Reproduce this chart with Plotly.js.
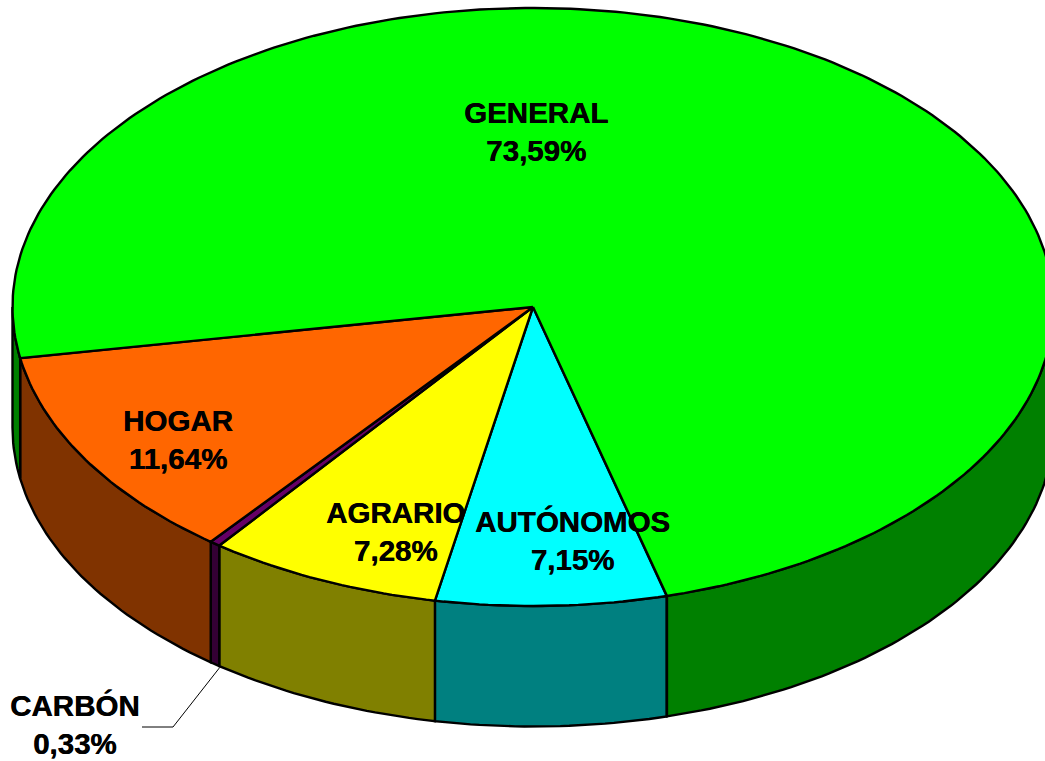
<!DOCTYPE html>
<html><head><meta charset="utf-8">
<script src="https://cdn.plot.ly/plotly-3.0.1.min.js"></script>
<style>html,body{margin:0;padding:0;background:#fff;overflow:hidden}#c{width:1045px;height:761px}</style>
</head><body><div id="c"></div>
<script>
var categories = ["AUTÓNOMOS", "AGRARIO", "CARBÓN", "HOGAR", "GENERAL"];
var shares = [7.15, 7.28, 0.33, 11.64, 73.59];
var shareLabels = ["7,15%", "7,28%", "0,33%", "11,64%", "73,59%"];
var topColors = ["#00FFFF", "#FFFF00", "#660066", "#FF6600", "#00FF00"];
var sideColors = ["#008080", "#808000", "#330033", "#803300", "#008000"];
var labelX = [572, 395, 74, 178, 536];
var labelY = [540, 531, 724, 439, 131];

var cx = 533, cy = 307, rx = 520.5, ry = 299, depth = 120.5, startDeg = 75.12;
function px(d){ return cx + rx*Math.cos(d*Math.PI/180); }
function py(d){ return cy + ry*Math.sin(d*Math.PI/180); }
function arc(a, b){ var o=[], n=Math.max(2,Math.ceil(Math.abs(b-a))); for(var i=0;i<=n;i++) o.push(a+(b-a)*i/n); return o; }

var traces = [], a = startDeg, spans = [];
shares.forEach(function(s){ spans.push([a, a + s*3.6]); a += s*3.6; });
var line = {color:"#000", width:2.4};

// walls: only the part of each slice facing the viewer (0..180 and 360..540 deg)
function wall(lo, hi, color){
  var an = arc(lo, hi), back = an.slice().reverse();
  traces.push({type:"scatter", mode:"lines", fill:"toself", fillcolor:color, line:line, hoverinfo:"skip",
    x: an.map(px).concat(back.map(px)).concat([px(lo)]),
    y: an.map(py).concat(back.map(function(d){return py(d)+depth;})).concat([py(lo)])});
}
spans.forEach(function(sp, i){
  [0, 360].forEach(function(off){
    var lo = Math.max(sp[0], off), hi = Math.min(sp[1], off+180);
    if (hi > lo) wall(lo, hi, sideColors[i]);
  });
});
// top faces
spans.forEach(function(sp, i){
  var an = arc(sp[0], sp[1]);
  traces.push({type:"scatter", mode:"lines", fill:"toself", fillcolor:topColors[i], line:line, hoverinfo:"skip",
    x:[cx].concat(an.map(px)).concat([cx]), y:[cy].concat(an.map(py)).concat([cy])});
});
// leader line of the small slice
var lead = spans[2][0];
traces.push({type:"scatter", mode:"lines", line:{color:"#000",width:1}, hoverinfo:"skip",
  x:[px(lead), 173, 142], y:[py(lead)+depth+2, 727, 727]});

var annotations = categories.map(function(c,i){
  return {x:labelX[i], y:labelY[i], xref:"x", yref:"y", showarrow:false, align:"center",
    text:"<b>"+c+"</b><br><b>"+shareLabels[i]+"</b>",
    font:{family:"Liberation Sans, Arial, sans-serif", size:29.5, color:"#000", shadow:"0.5px 0 0 #000"}};
});
Plotly.newPlot("c", traces, {
  width:1045, height:761, margin:{l:0,r:0,t:0,b:0}, showlegend:false,
  paper_bgcolor:"#fff", plot_bgcolor:"#fff",
  xaxis:{range:[0,1045], visible:false, fixedrange:true},
  yaxis:{range:[761,0], visible:false, fixedrange:true},
  annotations:annotations
}, {displayModeBar:false, staticPlot:true});
</script></body></html>
